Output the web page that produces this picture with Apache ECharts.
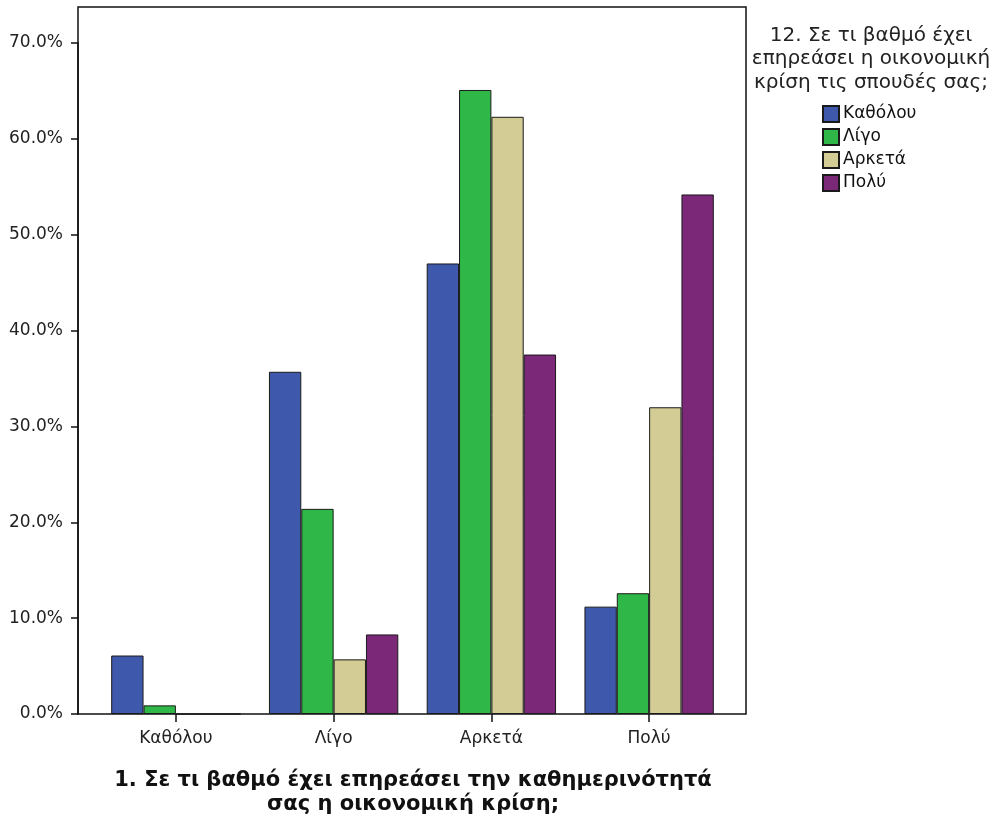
<!DOCTYPE html>
<html>
<head>
<meta charset="utf-8">
<script src="https://cdn.jsdelivr.net/npm/echarts@6/dist/echarts.min.js"></script>
<style>html,body{margin:0;padding:0;background:#fff;}#c{width:994px;height:820px;}</style>
</head>
<body>
<div id="c"></div>
<script>
const categories = ['Καθόλου', 'Λίγο', 'Αρκετά', 'Πολύ'];
const seriesNames = ['Καθόλου', 'Λίγο', 'Αρκετά', 'Πολύ'];
const valuesKatholou = [6.1, 35.7, 47.0, 11.2];
const valuesLigo = [0.9, 21.4, 65.1, 12.6];
const valuesArketa = [0, 5.7, 62.3, 32.0];
const valuesPoly = [0, 8.3, 37.5, 54.2];
const yTicks = [0, 10, 20, 30, 40, 50, 60, 70];
const xTitle = '1. Σε τι βαθμό έχει επηρεάσει την καθημερινότητά\nσας η οικονομική κρίση;';
const legendTitle = '12. Σε τι βαθμό έχει\nεπηρεάσει η οικονομική\nκρίση τις σπουδές σας;';

const colors = ['#3e58ac', '#2fb847', '#d3cd95', '#7c2878'];
const allValues = [valuesKatholou, valuesLigo, valuesArketa, valuesPoly];
const FONT = '"DejaVu Sans", sans-serif';

const chart = echarts.init(document.getElementById('c'));
chart.setOption({
  backgroundColor: '#fff',
  animation: false,
  textStyle: { fontFamily: FONT },
  title: [
    {
      text: xTitle, left: 413, top: 769, textAlign: 'center', padding: 0,
      textStyle: { fontSize: 21, fontWeight: 'bold', color: '#111', lineHeight: 24, fontFamily: FONT }
    },
    {
      text: legendTitle, left: 871, top: 24, textAlign: 'center', padding: 0,
      textStyle: { fontSize: 20, fontWeight: 'normal', color: '#222', lineHeight: 23.5, fontFamily: FONT }
    }
  ],
  legend: {
    orient: 'vertical', left: 822, top: 105, padding: 0,
    itemWidth: 16, itemHeight: 16, itemGap: 5, icon: 'rect',
    data: seriesNames,
    textStyle: { fontSize: 17, color: '#111', padding: [0, 0, 0, -1], fontFamily: FONT }
  },
  grid: [
    { left: 78, right: 248, top: 7, bottom: 106, show: true, borderColor: '#111', borderWidth: 1.5, backgroundColor: 'transparent' },
    { left: 97, right: 266, top: 43, bottom: 106 }
  ],
  xAxis: [
    { gridIndex: 0, type: 'value', show: false },
    {
      gridIndex: 1, type: 'category', data: categories,
      axisLine: { show: false },
      axisTick: { show: true, alignWithLabel: true, length: 8, lineStyle: { color: '#111', width: 1.5 } },
      axisLabel: { fontSize: 17, color: '#222', margin: 16, fontFamily: FONT }
    }
  ],
  yAxis: [
    { gridIndex: 0, type: 'value', show: false },
    {
      gridIndex: 1, type: 'value', min: yTicks[0], max: yTicks[yTicks.length - 1], interval: 10,
      offset: 19,
      axisLine: { show: true, lineStyle: { color: '#111', width: 1.5 } },
      axisTick: { show: true, length: 7, lineStyle: { color: '#111', width: 1.5 } },
      splitLine: { show: false },
      axisLabel: { fontSize: 17, color: '#222', margin: 15, formatter: v => v.toFixed(1) + '%', fontFamily: FONT }
    }
  ],
  series: allValues.map((vals, i) => ({
    name: seriesNames[i], type: 'bar', xAxisIndex: 1, yAxisIndex: 1,
    data: vals, barGap: '0%', barCategoryGap: '18%',
    itemStyle: { color: colors[i], borderColor: '#1a1a1a', borderWidth: 1 }
  }))
});
</script>
</body>
</html>
